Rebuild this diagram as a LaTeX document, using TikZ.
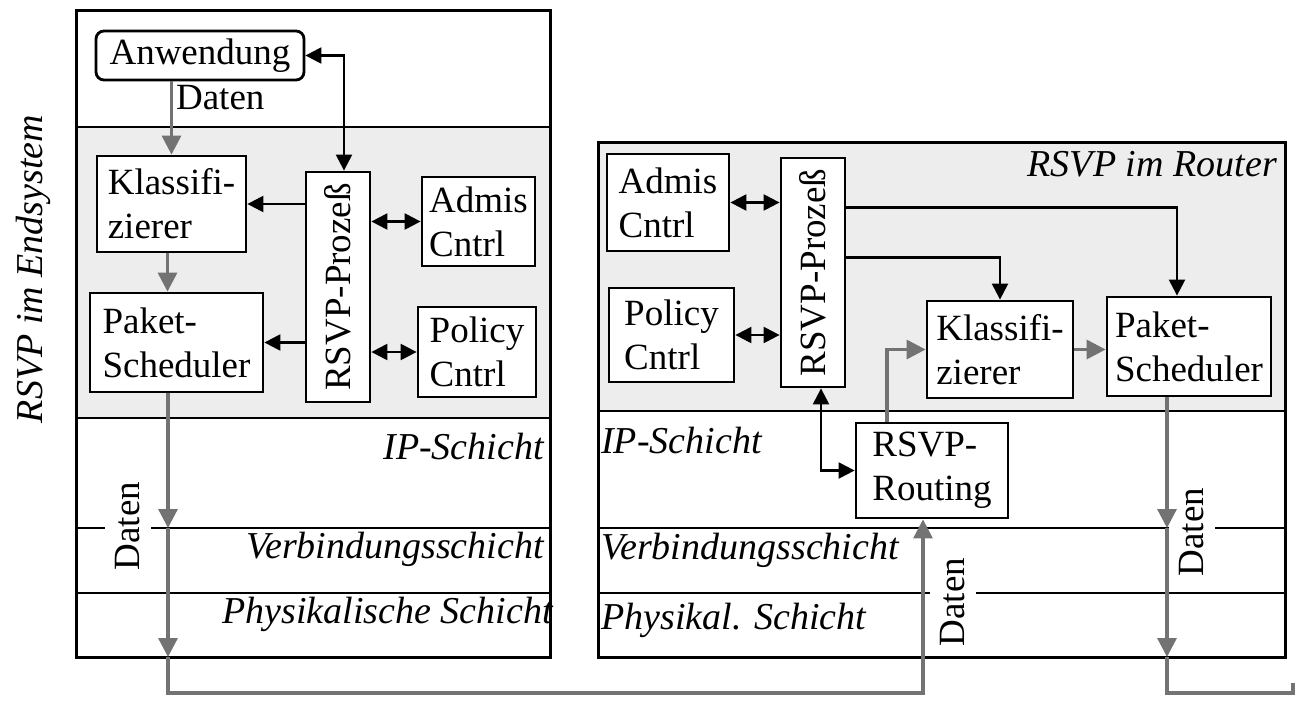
\documentclass[tikz,border=0pt]{standalone}
\usepackage{fontspec}
\setmainfont{Liberation Serif}
\usepackage{tikz}
\usetikzlibrary{arrows.meta,positioning,calc}

\begin{document}
\begin{tikzpicture}[
    x=1pt, y=-1pt,
    box/.style={rectangle, draw, line width=2.8pt, fill=white, align=left, inner sep=0pt, font=\fontsize{37}{44}\selectfont},
    layer/.style={inner sep=0pt, font=\itshape\fontsize{38}{44}\selectfont},
    datlabel/.style={fill=white, inner xsep=11pt, inner ysep=2pt, font=\fontsize{37}{44}\selectfont},
    sig/.style={-{Triangle[length=16pt,width=16pt]}, line width=2.3pt},
    sigboth/.style={{Triangle[length=16pt,width=16pt]}-{Triangle[length=16pt,width=16pt]}, line width=2.3pt},
    data/.style={-{Triangle[length=19pt,width=19pt]}, line width=3.2pt, draw=black!55}
]
    \useasboundingbox (0,0) rectangle (1295,704);

    % Shaded areas
    \fill[black!7] (76,127) rectangle (550,418);
    \fill[black!7] (598,142) rectangle (1285,411);

    % Layer lines
    \draw[line width=2.5pt] (76,127) -- (550,127);
    \draw[line width=2.5pt] (76,418) -- (550,418);
    \draw[line width=2.5pt] (76,528) -- (550,528);
    \draw[line width=2.5pt] (76,593) -- (550,593);
    \draw[line width=2.5pt] (598,411) -- (1285,411);
    \draw[line width=2.5pt] (598,528) -- (1285,528);
    \draw[line width=2.5pt] (598,593) -- (1285,593);

    % Panels
    \draw[line width=3pt] (76,10) rectangle (550,657);
    \draw[line width=3pt] (598,142) rectangle (1285,657);

    % Titles
    \node[layer, rotate=90] (endsys) at (33,269) {RSVP im Endsystem};
    \node[layer, anchor=east] (router) at (1277,164) {RSVP im Router};

    % Layer names (end system)
    \node[layer, anchor=east] (ipL) at (544,446) {IP-Schicht};
    \node[layer, anchor=east] (verbL) at (544,549) {Verbindungsschicht};
    \node[layer, anchor=east] (physL) at (553,614) {Physikalische Schicht};

    % Layer names (router)
    \node[layer, anchor=west] (ipR) at (601,440) {IP-Schicht};
    \node[layer, anchor=west] (verbR) at (601,550) {Verbindungsschicht};
    \node[layer, anchor=west] (physR) at (601,620) {Physikal. Schicht};

    % Daten labels on the layer lines
    \node[datlabel] (datL) at (128,526) {\rotatebox{90}{Daten}};
    \node[datlabel] (datM) at (953,602) {\rotatebox{90}{Daten}};
    \node[datlabel] (datR) at (1192,532) {\rotatebox{90}{Daten}};

    % End system
    \node[box, rounded corners=8pt, minimum width=208, minimum height=49] (anw) at (200,55.5) {Anwendung};
    \node[box, minimum width=149, minimum height=96] (klassL) at (171.5,204) {Klassifi-\\zierer};
    \node[box, minimum width=173, minimum height=99] (paketL) at (176.5,342.5) {Paket-\\Scheduler};
    \node[box, minimum width=64, minimum height=230] (rsvpL) at (338,287) {\rotatebox{90}{RSVP-Prozeß}};
    \node[box, minimum width=113, minimum height=89] (admisL) at (478.5,221.5) {Admis\\Cntrl};
    \node[box, minimum width=118, minimum height=90] (policyL) at (477,352) {Policy\\Cntrl};

    % Router
    \node[box, minimum width=122, minimum height=97] (admisR) at (668,202.5) {Admis\\Cntrl};
    \node[box, minimum width=125, minimum height=94] (policyR) at (671.5,335) {Policy\\Cntrl};
    \node[box, minimum width=64, minimum height=229] (rsvpR) at (813,272.5) {\rotatebox{90}{RSVP-Prozeß}};
    \node[box, minimum width=146, minimum height=97] (klassR) at (1000,349.5) {Klassifi-\\zierer};
    \node[box, minimum width=164, minimum height=99] (paketR) at (1189,346.5) {Paket-\\Scheduler};
    \node[box, minimum width=152, minimum height=95] (routing) at (932,470.5) {RSVP-\\Routing};

    % Control connections (end system)
    \draw[sigboth] (anw.east) -| ([xshift=6pt]rsvpL.north);
    \draw[sig] (rsvpL.west |- klassL.east) -- (klassL.east);
    \draw[sig] (rsvpL.west |- paketL.east) -- (paketL.east);
    \draw[sigboth] (rsvpL.east |- admisL.west) -- (admisL.west);
    \draw[sigboth] (rsvpL.east |- policyL.west) -- (policyL.west);

    % Control connections (router)
    \draw[sigboth] (admisR.east) -- (rsvpR.west |- admisR.east);
    \draw[sigboth] (policyR.east) -- (rsvpR.west |- policyR.east);
    \draw[sig] ([yshift=65pt]rsvpR.east) -| ([xshift=-12pt]paketR.north);
    \draw[sig] ([yshift=15pt]rsvpR.east) -| (klassR.north);
    \draw[sigboth] ([xshift=8pt]rsvpR.south) |- (routing.west);

    % Data flow (end system)
    \draw[data] (klassL.north |- anw.south) -- node[pos=.22, anchor=west, inner sep=3pt, font=\fontsize{37}{44}\selectfont] (datTop) {Daten} (klassL.north);
    \draw[data] ([xshift=-4pt]klassL.south) -- ([xshift=-4pt]klassL.south |- paketL.north);
    \coordinate (dA) at (168,528);
    \coordinate (dB) at (168,657);
    \coordinate (dC) at (168,693);
    \coordinate (dD) at (923,693);
    \draw[data] (paketL.south -| dA) -- (dA);
    \draw[data] (dA) -- (dB);
    \draw[data] (dB) -- (dC) -- (dD) -- (dD |- routing.south);

    % Data flow (router)
    \draw[data] ([xshift=-45pt]routing.north) |- (klassR.west);
    \draw[data] (klassR.east) -- (paketR.west |- klassR.east);
    \coordinate (dE) at (1167,528);
    \coordinate (dF) at (1167,657);
    \coordinate (dG) at (1167,693);
    \coordinate (dH) at (1293,693);
    \coordinate (dI) at (1293,683);
    \draw[data] (paketR.south -| dE) -- (dE);
    \draw[data] (dE) -- (dF);
    \draw[data, -] (dF) -- (dG) -- (dH) -- (dI);
\end{tikzpicture}
\end{document}
